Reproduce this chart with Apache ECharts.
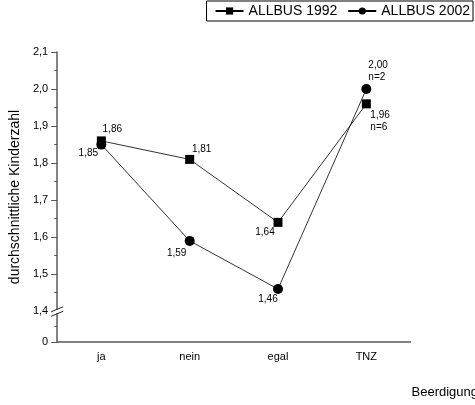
<!DOCTYPE html>
<html>
<head>
<meta charset="utf-8">
<script src="https://cdn.jsdelivr.net/npm/echarts@6/dist/echarts.min.js"></script>
<style>
  html, body { margin: 0; padding: 0; background: #fff; }
  #chart { width: 475px; height: 405px; }
</style>
</head>
<body>
<div id="chart"></div>
<script>
// Average number of children by answer category, two survey waves
const categories = ['ja', 'nein', 'egal', 'TNZ'];
const allbus1992 = [1.86, 1.81, 1.64, 1.96];
const allbus2002 = [1.85, 1.59, 1.46, 2.00];
const notes1992 = ['', '', '', 'n=6'];
const notes2002 = ['', '', '', 'n=2'];

// Broken value axis: "0" sits just below the break, then 1,4 ... 2,1
const yTickValues = [1.4, 1.5, 1.6, 1.7, 1.8, 1.9, 2.0, 2.1];
const yMinorValues = [1.45, 1.55, 1.65, 1.75, 1.85, 1.95, 2.05];
const axisZero = 1.317;
const axisTop = 2.1;

const FONT = 'Arial, "Liberation Sans", sans-serif';
const AXIS_COLOR = '#5a5a5a';

const fmt = v => v.toFixed(2).replace('.', ',');

// label placement around each marker
const labels1992 = [
  { offset: [11, -12] },
  { offset: [12, -10] },
  { offset: [-13, 10] },
  { align: 'left', offset: [4, 17] }
];
const labels2002 = [
  { offset: [-13, 9] },
  { offset: [-13, 12] },
  { offset: [-10, 10] },
  { align: 'left', offset: [2, -18] }
];

function seriesData(values, layout) {
  return values.map((v, i) => ({ value: v, label: layout[i] }));
}

function labelFormatter(notes) {
  return p => fmt(p.value) + (notes[p.dataIndex] ? '\n' + notes[p.dataIndex] : '');
}

const baseLabel = {
  show: true,
  position: 'inside',
  color: '#000',
  fontFamily: FONT,
  fontSize: 10,
  lineHeight: 12,
  align: 'center',
  verticalAlign: 'middle'
};

const chart = echarts.init(document.getElementById('chart'), null, { renderer: 'canvas' });

chart.setOption({
  animation: false,
  backgroundColor: '#fff',
  grid: { left: 54, right: 64.5, top: 52, bottom: 63, containLabel: false },
  legend: {
    right: 2,
    top: 1,
    padding: [3, 3, 3, 8],
    borderColor: '#000',
    borderWidth: 1,
    itemWidth: 28,
    itemHeight: 9,
    itemGap: 10,
    textStyle: { fontFamily: FONT, fontSize: 14, color: '#000' },
    data: ['ALLBUS 1992', 'ALLBUS 2002']
  },
  xAxis: [
    {
      type: 'category',
      data: categories,
      boundaryGap: true,
      axisLine: { onZero: false, lineStyle: { color: AXIS_COLOR, width: 1.5 } },
      axisTick: { alignWithLabel: true, length: 5, lineStyle: { color: AXIS_COLOR, width: 1 } },
      axisLabel: { margin: 9, fontFamily: FONT, fontSize: 11, color: '#000' },
      splitLine: { show: false }
    },
    {
      type: 'category',
      data: categories,
      position: 'bottom',
      boundaryGap: true,
      axisLine: { show: false, onZero: false },
      axisTick: { length: 3, lineStyle: { color: AXIS_COLOR, width: 1 } },
      axisLabel: { show: false },
      splitLine: { show: false }
    }
  ],
  yAxis: [
    {
      type: 'value',
      min: axisZero,
      max: axisTop,
      name: 'durchschnittliche Kinderzahl',
      nameLocation: 'middle',
      nameGap: 31,
      nameTextStyle: { fontFamily: FONT, fontSize: 14, color: '#000' },
      axisLine: { show: true, lineStyle: { color: AXIS_COLOR, width: 1.5 } },
      axisTick: {
        show: true,
        length: 6,
        customValues: [axisZero].concat(yTickValues.slice(1)),
        lineStyle: { color: AXIS_COLOR, width: 1 }
      },
      axisLabel: {
        margin: 9,
        fontFamily: FONT,
        fontSize: 11,
        color: '#000',
        customValues: [axisZero].concat(yTickValues),
        formatter: v => (v < 1.39 ? '0' : v.toFixed(1).replace('.', ','))
      },
      splitLine: { show: false }
    },
    {
      type: 'value',
      min: axisZero,
      max: axisTop,
      position: 'left',
      axisLine: { show: false },
      axisTick: {
        show: true,
        length: 3,
        customValues: [(axisZero + yTickValues[0]) / 2].concat(yMinorValues),
        lineStyle: { color: AXIS_COLOR, width: 1 }
      },
      axisLabel: { show: false },
      splitLine: { show: false }
    }
  ],
  series: [
    {
      name: 'ALLBUS 1992',
      type: 'line',
      data: seriesData(allbus1992, labels1992),
      symbol: 'rect',
      symbolSize: 9,
      itemStyle: { color: '#000' },
      lineStyle: { color: '#000', width: 0.8 },
      label: Object.assign({}, baseLabel, { formatter: labelFormatter(notes1992) }),
      z: 3
    },
    {
      name: 'ALLBUS 2002',
      type: 'line',
      data: seriesData(allbus2002, labels2002),
      symbol: 'circle',
      symbolSize: 10,
      itemStyle: { color: '#000' },
      lineStyle: { color: '#000', width: 0.8 },
      label: Object.assign({}, baseLabel, { formatter: labelFormatter(notes2002) }),
      z: 3
    }
  ]
});

// Axis break marks at 1,4 and the trailing x-axis caption
function drawExtras() {
  const p0 = chart.convertToPixel({ gridIndex: 0 }, [0, yTickValues[0]]);
  const p1 = chart.convertToPixel({ gridIndex: 0 }, [1, yTickValues[0]]);
  const band = p1[0] - p0[0];
  const ax = p0[0] - band / 2;
  const ay = p0[1];
  const xEnd = chart.convertToPixel({ gridIndex: 0 }, [categories.length - 1, yTickValues[0]])[0] + band / 2;
  const yBottom = chart.convertToPixel({ gridIndex: 0 }, [0, axisZero])[1];
  chart.setOption({
    graphic: [
      { type: 'rect', shape: { x: ax - 2, y: ay - 2, width: 4, height: 4 }, style: { fill: '#fff' }, z: 10 },
      { type: 'line', shape: { x1: ax - 6, y1: ay + 0.5, x2: ax + 6, y2: ay - 4.5 }, style: { stroke: '#222', lineWidth: 1 }, z: 11 },
      { type: 'line', shape: { x1: ax - 6, y1: ay + 5, x2: ax + 6, y2: ay }, style: { stroke: '#222', lineWidth: 1 }, z: 11 },
      {
        type: 'text',
        x: xEnd + 1,
        y: yBottom + 50,
        style: { text: 'Beerdigung', fontFamily: FONT, fontSize: 13, fill: '#000', textVerticalAlign: 'middle' },
        z: 10
      }
    ]
  });
}
drawExtras();
</script>
</body>
</html>
